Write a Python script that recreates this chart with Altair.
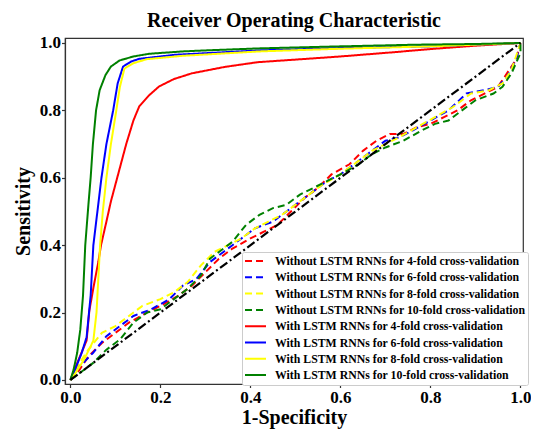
import altair as alt
import pandas as pd

# ---------------- data ----------------
series_names = [
    "Without LSTM RNNs for 4-fold cross-validation",
    "Without LSTM RNNs for 6-fold cross-validation",
    "Without LSTM RNNs for 8-fold cross-validation",
    "Without LSTM RNNs for 10-fold cross-validation",
    "With LSTM RNNs for 4-fold cross-validation",
    "With LSTM RNNs for 6-fold cross-validation",
    "With LSTM RNNs for 8-fold cross-validation",
    "With LSTM RNNs for 10-fold cross-validation",
]
series_colors = ["#ff0000", "#0000ff", "#ffff00", "#008000",
                 "#ff0000", "#0000ff", "#ffff00", "#008000"]

# Without LSTM (dashed)
wo4_x = [0, 0.02, 0.04, 0.07, 0.10, 0.13, 0.17, 0.20, 0.24, 0.27, 0.30, 0.33, 0.36, 0.40, 0.43, 0.46,
         0.49, 0.52, 0.55, 0.58, 0.62, 0.65, 0.68, 0.71, 0.74, 0.77, 0.80, 0.83, 0.86, 0.89, 0.92, 0.95,
         0.97, 0.99, 1.0]
wo4_y = [0, 0.03, 0.07, 0.11, 0.14, 0.17, 0.20, 0.22, 0.25, 0.28, 0.32, 0.36, 0.39, 0.42, 0.44, 0.46,
         0.50, 0.54, 0.57, 0.61, 0.64, 0.68, 0.71, 0.73, 0.73, 0.75, 0.76, 0.78, 0.80, 0.83, 0.85, 0.87,
         0.91, 0.95, 1.0]

wo6_x = [0, 0.02, 0.05, 0.08, 0.11, 0.14, 0.18, 0.22, 0.25, 0.28, 0.31, 0.34, 0.38, 0.41, 0.45, 0.48,
         0.51, 0.54, 0.57, 0.60, 0.63, 0.66, 0.70, 0.73, 0.76, 0.80, 0.84, 0.88, 0.92, 0.95, 0.97, 0.99, 1.0]
wo6_y = [0, 0.04, 0.08, 0.13, 0.16, 0.19, 0.21, 0.24, 0.28, 0.30, 0.35, 0.38, 0.42, 0.45, 0.47, 0.50,
         0.53, 0.56, 0.59, 0.61, 0.64, 0.67, 0.71, 0.72, 0.74, 0.77, 0.80, 0.85, 0.86, 0.87, 0.90, 0.95, 1.0]

wo8_x = [0, 0.02, 0.04, 0.07, 0.10, 0.13, 0.16, 0.20, 0.23, 0.26, 0.29, 0.32, 0.35, 0.38, 0.41, 0.44,
         0.47, 0.50, 0.53, 0.56, 0.60, 0.63, 0.67, 0.70, 0.73, 0.77, 0.81, 0.85, 0.89, 0.93, 0.96, 0.98,
         0.99, 1.0]
wo8_y = [0, 0.05, 0.09, 0.14, 0.16, 0.19, 0.22, 0.24, 0.26, 0.29, 0.34, 0.38, 0.40, 0.42, 0.45, 0.47,
         0.49, 0.52, 0.55, 0.58, 0.61, 0.64, 0.68, 0.70, 0.72, 0.75, 0.78, 0.81, 0.85, 0.86, 0.88, 0.92,
         0.96, 1.0]

wo10_x = [0, 0.02, 0.05, 0.08, 0.11, 0.14, 0.17, 0.20, 0.23, 0.26, 0.29, 0.31, 0.33, 0.36, 0.39, 0.42,
          0.45, 0.48, 0.51, 0.54, 0.57, 0.60, 0.64, 0.67, 0.70, 0.74, 0.78, 0.81, 0.84, 0.87, 0.90, 0.94,
          0.96, 0.98, 0.99, 1.0, 1.0]
wo10_y = [0, 0.02, 0.05, 0.09, 0.12, 0.17, 0.20, 0.21, 0.24, 0.27, 0.31, 0.36, 0.38, 0.41, 0.46, 0.49,
          0.51, 0.52, 0.55, 0.57, 0.59, 0.61, 0.64, 0.67, 0.69, 0.71, 0.74, 0.76, 0.77, 0.80, 0.83, 0.85,
          0.87, 0.91, 0.94, 0.97, 1.0]

# With LSTM (solid)
w4_x = [0, 0.015, 0.036, 0.042, 0.052, 0.062, 0.068, 0.080, 0.090, 0.104, 0.124, 0.140, 0.153, 0.175,
        0.197, 0.230, 0.270, 0.343, 0.416, 0.525, 0.600, 0.722, 0.800, 0.900, 1.0]
w4_y = [0, 0.05, 0.117, 0.205, 0.28, 0.35, 0.40, 0.47, 0.53, 0.60, 0.70, 0.77, 0.812, 0.845,
        0.871, 0.893, 0.910, 0.929, 0.943, 0.953, 0.960, 0.973, 0.982, 0.992, 1.0]

w6_x = [0, 0.010, 0.025, 0.036, 0.045, 0.051, 0.060, 0.069, 0.080, 0.095, 0.105, 0.117, 0.135, 0.153,
        0.233, 0.420, 0.600, 0.800, 1.0]
w6_y = [0, 0.03, 0.08, 0.127, 0.25, 0.40, 0.50, 0.60, 0.70, 0.80, 0.88, 0.93, 0.945, 0.953,
        0.965, 0.978, 0.985, 0.990, 1.0]

w8_x = [0, 0.011, 0.030, 0.045, 0.051, 0.058, 0.062, 0.066, 0.072, 0.080, 0.090, 0.102, 0.110, 0.120,
        0.140, 0.170, 0.250, 0.420, 0.600, 0.800, 1.0]
w8_y = [0, 0.02, 0.06, 0.10, 0.117, 0.20, 0.30, 0.40, 0.50, 0.60, 0.70, 0.80, 0.87, 0.924,
        0.940, 0.952, 0.962, 0.975, 0.983, 0.990, 1.0]

w10_x = [0, 0.007, 0.015, 0.022, 0.028, 0.033, 0.040, 0.045, 0.050, 0.057, 0.065, 0.078, 0.090, 0.109,
         0.140, 0.175, 0.250, 0.300, 0.420, 0.600, 0.770, 0.900, 1.0]
w10_y = [0, 0.03, 0.08, 0.15, 0.25, 0.40, 0.52, 0.60, 0.70, 0.80, 0.86, 0.905, 0.93, 0.948,
         0.960, 0.968, 0.975, 0.978, 0.984, 0.990, 0.995, 0.997, 1.0]

chance_x = [0.0, 1.0]
chance_y = [0.0, 1.0]

x_ticks = [0.0, 0.2, 0.4, 0.6, 0.8, 1.0]
y_ticks = [0.0, 0.2, 0.4, 0.6, 0.8, 1.0]

# ---------------- build table ----------------
all_x = [wo4_x, wo6_x, wo8_x, wo10_x, w4_x, w6_x, w8_x, w10_x]
all_y = [wo4_y, wo6_y, wo8_y, wo10_y, w4_y, w6_y, w8_y, w10_y]
rows = []
for name, xs, ys in zip(series_names, all_x, all_y):
    for i, (xv, yv) in enumerate(zip(xs, ys)):
        rows.append({"series": name, "fpr": xv, "tpr": yv, "idx": i})
df = pd.DataFrame(rows)
chance = pd.DataFrame({"fpr": chance_x, "tpr": chance_y, "idx": [0, 1]})

FONT = "Liberation Serif"
xscale = alt.Scale(domain=[-0.012, 1.0056], nice=False, zero=False)
yscale = alt.Scale(domain=[-0.0119, 1.0148], nice=False, zero=False)

dash_range = [[7, 4]] * 4 + [[1, 0]] * 4

legend = alt.Legend(title=None, orient="none", legendX=177, legendY=214)

lines = alt.Chart(df).mark_line(strokeWidth=2, clip=True).encode(
    x=alt.X("fpr:Q", scale=xscale,
            axis=alt.Axis(values=x_ticks, format=".1f", title="1-Specificity")),
    y=alt.Y("tpr:Q", scale=yscale,
            axis=alt.Axis(values=y_ticks, format=".1f", title="Sensitivity")),
    color=alt.Color("series:N", scale=alt.Scale(domain=series_names, range=series_colors),
                    legend=legend),
    strokeDash=alt.StrokeDash("series:N", scale=alt.Scale(domain=series_names, range=dash_range),
                              legend=legend),
    detail="series:N",
    order="idx:Q",
)

diag = alt.Chart(chance).mark_line(color="black", strokeWidth=2.2, strokeDash=[9, 3, 2, 3]).encode(
    x=alt.X("fpr:Q", scale=xscale),
    y=alt.Y("tpr:Q", scale=yscale),
    order="idx:Q",
)

chart = alt.layer(lines, diag).properties(
    width=458, height=346,
    title=alt.TitleParams("Receiver Operating Characteristic", font=FONT, fontSize=20,
                          fontWeight="bold", color="black", offset=3, anchor="middle",
                          frame="group"),
    autosize=alt.AutoSizeParams(type="none"),
    padding={"left": 57, "top": 30, "right": 8, "bottom": 46},
).configure_view(
    stroke="#333333", strokeWidth=1.2
).configure_axis(
    grid=False, labelFont=FONT, labelFontSize=17, labelFontWeight="bold", labelColor="black",
    titleFont=FONT, titleFontSize=20, titleFontWeight="bold", titleColor="black",
    domainColor="#333333", domainWidth=1.2, tickColor="#333333", tickSize=3.5, tickWidth=1.2,
    labelPadding=1,
).configure_axisX(
    titlePadding=1.5, labelPadding=2
).configure_axisY(
    titlePadding=6
).configure_legend(
    labelFont=FONT, labelFontSize=11.8, labelFontWeight="bold", labelColor="black",
    labelLimit=400, symbolType="stroke", symbolSize=441, symbolStrokeWidth=2,
    clipHeight=14, labelOffset=8, rowPadding=2.3, padding=2, strokeColor="#cccccc",
    fillColor="white", cornerRadius=2,
)

chart.save("out.html", embed_options={"renderer": "svg", "actions": False})
